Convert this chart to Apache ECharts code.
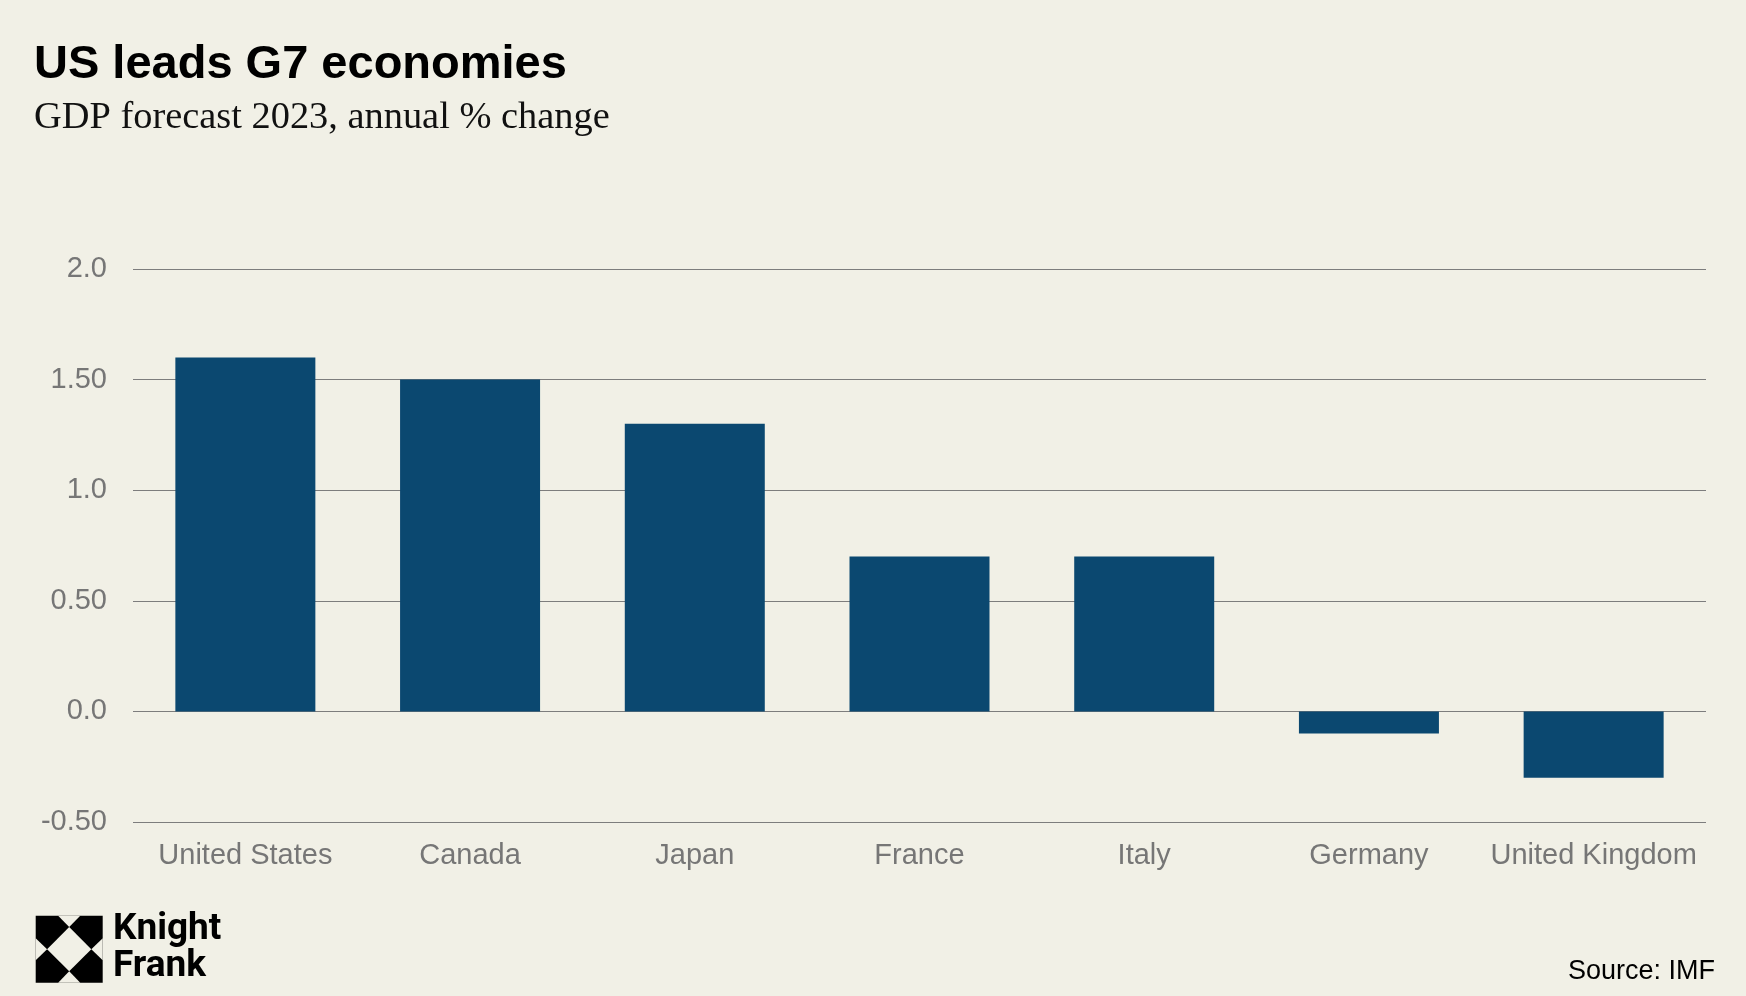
<!DOCTYPE html>
<html>
<head>
<meta charset="utf-8">
<script src="https://cdn.jsdelivr.net/npm/echarts@6/dist/echarts.min.js"></script>
<style>
html,body{margin:0;padding:0;background:#F1F0E6;}
#chart{width:1746px;height:996px;}
</style>
</head>
<body>
<div id="chart"></div>
<script>
var categories = ['United States', 'Canada', 'Japan', 'France', 'Italy', 'Germany', 'United Kingdom'];
var gdpForecast = [1.6, 1.5, 1.3, 0.7, 0.7, -0.1, -0.3];
var yTickValues = [-0.5, 0, 0.5, 1, 1.5, 2];
var yTickLabels = ['-0.50', '0.0', '0.50', '1.0', '1.50', '2.0'];
var titleText = 'US leads G7 economies';
var subtitleText = 'GDP forecast 2023, annual % change';
var sourceText = 'Source: IMF';

var bg = '#F1F0E6';
var chart = echarts.init(document.getElementById('chart'));

var lx = 35.7, ly = 915.7, ls = 67;
function wpoly(a){
  return {type:'polygon', shape:{points:a.map(function(p){ return [lx + p[0]*ls, ly + p[1]*ls]; })}, style:{fill:bg}};
}

chart.setOption({
  backgroundColor: bg,
  animation: false,
  grid: {left: 133, right: 40, top: 269, bottom: 174, containLabel: false},
  xAxis: {
    type: 'category',
    data: categories,
    axisLine: {show: false},
    axisTick: {show: false},
    axisLabel: {interval: 0, color: '#767676', fontSize: 29, fontFamily: 'Liberation Sans, Arial, sans-serif', margin: 19, lineHeight: 29}
  },
  yAxis: {
    type: 'value',
    min: -0.5, max: 2, interval: 0.5,
    axisLine: {show: false},
    axisTick: {show: false},
    splitLine: {lineStyle: {color: '#7d7d7d', width: 1.2}},
    axisLabel: {
      color: '#767676', fontSize: 29, fontFamily: 'Liberation Sans, Arial, sans-serif', margin: 26,
      formatter: function(v){
        for (var i = 0; i < yTickValues.length; i++) { if (Math.abs(yTickValues[i] - v) < 1e-9) return yTickLabels[i]; }
        return '';
      }
    }
  },
  series: [{
    type: 'bar',
    data: gdpForecast,
    barWidth: '62.3%',
    itemStyle: {color: '#0B4870'}
  }],
  graphic: [
    {type:'text', left: 34, top: 42, style:{text: titleText, font: 'bold 47px "Liberation Sans", Arial, sans-serif', fill:'#000'}},
    {type:'text', left: 34, top: 99, style:{text: subtitleText, font: '38.4px "Liberation Serif", Georgia, serif', fill:'#111'}},
    {type:'text', right: 31, top: 958, style:{text: sourceText, font: '27px "Liberation Sans", Arial, sans-serif', fill:'#000'}},
    {type:'group', children: [
      {type:'rect', shape:{x:lx, y:ly, width:ls, height:ls}, style:{fill:'#000'}},
      wpoly([[0.5,0.17],[0.83,0.5],[0.5,0.83],[0.17,0.5]]),
      wpoly([[0.335,0],[0.665,0],[0.5,0.17]]),
      wpoly([[0.335,1],[0.665,1],[0.5,0.83]]),
      wpoly([[0,0.335],[0,0.665],[0.17,0.5]]),
      wpoly([[1,0.335],[1,0.665],[0.83,0.5]]),
      {type:'text', x: 113, y: 948, style:{text:'Knight', font:'bold 37px "Liberation Sans Narrow", "Roboto", sans-serif', fill:'#000', verticalAlign:'bottom'}},
      {type:'text', x: 113, y: 985, style:{text:'Frank', font:'bold 37px "Liberation Sans Narrow", "Roboto", sans-serif', fill:'#000', verticalAlign:'bottom'}}
    ]}
  ]
});
</script>
</body>
</html>
